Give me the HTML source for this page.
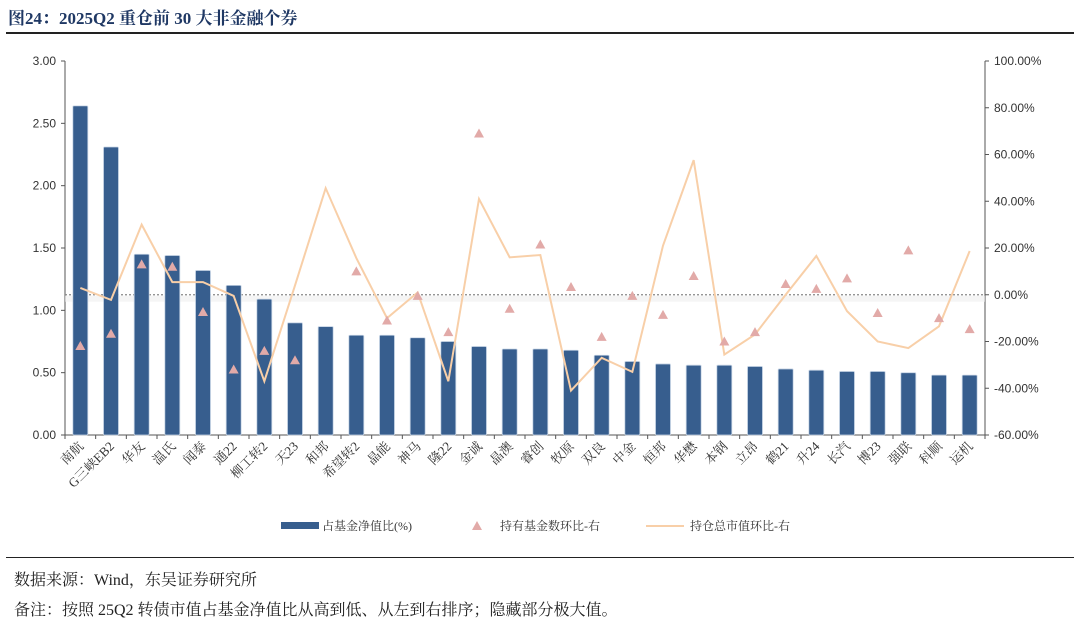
<!DOCTYPE html>
<html><head><meta charset="utf-8"><style>
body{margin:0;background:#fff;width:1080px;height:626px;overflow:hidden;font-family:"Liberation Serif","Noto Serif CJK SC",serif;}
.title{position:absolute;left:8px;top:4px;font-size:17px;font-weight:bold;color:#1f3864;font-family:"Liberation Serif","Noto Serif CJK SC",serif;}
.rule{position:absolute;left:6px;width:1068px;height:2px;background:#222;}
.note{position:absolute;left:14px;font-size:16px;color:#222;}
</style></head><body>
<div class="title">图24：2025Q2 重仓前 30 大非金融个券</div>
<div class="rule" style="top:32px"></div>
<svg id="chart" width="1080" height="626" style="position:absolute;left:0;top:0"></svg>
<div class="rule" style="top:557px;height:1px"></div>
<div class="note" style="top:567px">数据来源：Wind，东吴证券研究所</div>
<div class="note" style="top:597px">备注：按照 25Q2 转债市值占基金净值比从高到低、从左到右排序；隐藏部分极大值。</div>
<script>
const categories=["南航","G三峡EB2","华友","温氏","闻泰","通22","柳工转2","天23","和邦","希望转2","晶能","神马","隆22","金诚","晶澳","睿创","牧原","双良","中金","恒邦","华懋","本钢","立昂","鹤21","升24","长汽","博23","强联","科顺","运机"];
const barValues=[2.64,2.31,1.45,1.44,1.32,1.20,1.09,0.90,0.87,0.80,0.80,0.78,0.75,0.71,0.69,0.69,0.68,0.64,0.59,0.57,0.56,0.56,0.55,0.53,0.52,0.51,0.51,0.50,0.48,0.48];
const fundCountChg=[-21.9,-16.7,13,12,-7.4,-32,-24,-28,null,10,-11,-0.5,-16,69,-6,21.5,3.3,-18,-0.5,-8.6,8,-20,-16,4.6,2.5,7,-7.8,19,-10,-14.7];
const holdValueChg=[2.9,-2.2,30,5.4,5.4,-0.5,-37,4,45.6,15.7,-10,1,-37,41,16,17,-41,-27,-33,21,57.6,-25.6,-17,0,16.6,-7,-20,-22.8,-13.5,18.7];
const leftTicks=["0.00","0.50","1.00","1.50","2.00","2.50","3.00"];
const rightTicks=["-60.00%","-40.00%","-20.00%","0.00%","20.00%","40.00%","60.00%","80.00%","100.00%"];

const svg=document.getElementById('chart');const NS='http://www.w3.org/2000/svg';
const X0=65,X1=985,YT=61,YB=435;
const step=(X1-X0)/categories.length;
const xc=i=>X0+(i+0.5)*step;
const yL=v=>YB-(v/3)*(YB-YT);
const yR=p=>YB-((p+60)/160)*(YB-YT);
function mk(t,a,p){const e=document.createElementNS(NS,t);for(const k in a)e.setAttribute(k,a[k]);(p||svg).appendChild(e);return e;}
// axes
let ax=mk('line',{x1:X0,y1:YT,x2:X0,y2:YB,stroke:'#555'});


let ax2=mk('line',{x1:X1,y1:YT,x2:X1,y2:YB,stroke:'#555'});


let ax3=mk('line',{x1:X0,y1:YB,x2:X1,y2:YB,stroke:'#555'});


leftTicks.forEach(t=>{const y=yL(parseFloat(t));mk('line',{x1:X0-4,y1:y,x2:X0,y2:y,stroke:'#555'});
 const tx=mk('text',{x:X0-9,y:y+4,'text-anchor':'end','font-size':12,fill:'#333','font-family':'Liberation Sans, sans-serif'});tx.textContent=t;
 
 });
rightTicks.forEach(t=>{const y=yR(parseFloat(t));mk('line',{x1:X1,y1:y,x2:X1+4,y2:y,stroke:'#555'});
 const tx=mk('text',{x:X1+9,y:y+4,'font-size':12,fill:'#333','font-family':'Liberation Sans, sans-serif'});tx.textContent=t;
 
 });
for(let i=0;i<=categories.length;i++){const x=X0+i*step;mk('line',{x1:x,y1:YB,x2:x,y2:YB+4,stroke:'#555'});}
// zero line
mk('rect',{x:X0,y:yR(0)+1,width:X1-X0,height:6,fill:'#eee',opacity:0.6});
let zl=mk('line',{x1:X0,y1:yR(0),x2:X1,y2:yR(0),stroke:'#888','stroke-dasharray':'2,2','stroke-width':1.2});


// bars
barValues.forEach((v,i)=>{const b=mk('rect',{x:xc(i)-7.5,y:yL(v),width:15,height:YB-yL(v),fill:'#375e8e',stroke:'#c9d6e6','stroke-width':0.8,rx:1});
 
 });
// line
const pts=holdValueChg.map((p,i)=>xc(i)+','+yR(p)).join(' ');
const pl=mk('polyline',{points:pts,fill:'none',stroke:'#f8cfa8','stroke-width':2});


// triangles
fundCountChg.forEach((p,i)=>{if(p===null)return;const x=xc(i),y=yR(p);
 const t=mk('polygon',{points:`${x},${y-5} ${x-5},${y+4} ${x+5},${y+4}`,fill:'#e2aaa8'});
 
 });
// x labels
categories.forEach((c,i)=>{const x=xc(i)+4,y=YB+12;
 const t=mk('text',{x:x,y:y,'text-anchor':'end','font-size':13,fill:'#333',transform:`rotate(-45 ${x} ${y})`,'font-family':'Liberation Serif, Noto Serif CJK SC, serif'});
 t.textContent=c;
 
 });
// legend
const lg=mk('g',{});


mk('rect',{x:281,y:522,width:38,height:7,fill:'#375e8e'},lg);
let t1=mk('text',{x:322,y:530,'font-size':12,fill:'#333'},lg);t1.textContent='占基金净值比(%)';


mk('polygon',{points:'477,521 472,530 482,530',fill:'#e2aaa8'},lg);
let t2=mk('text',{x:500,y:530,'font-size':12,fill:'#333'},lg);t2.textContent='持有基金数环比-右';


mk('line',{x1:646,y1:526,x2:684,y2:526,stroke:'#f8cfa8','stroke-width':2},lg);
let t3=mk('text',{x:690,y:530,'font-size':12,fill:'#333'},lg);t3.textContent='持仓总市值环比-右';


</script>
</body></html>
